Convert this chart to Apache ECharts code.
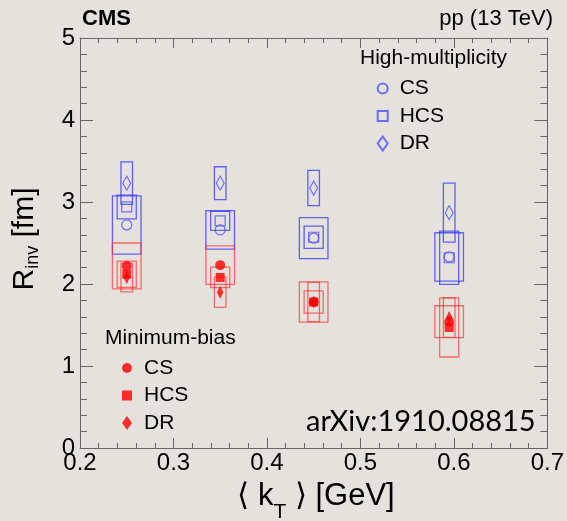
<!DOCTYPE html>
<html>
<head>
<meta charset="utf-8">
<script src="https://cdn.jsdelivr.net/npm/echarts@6/dist/echarts.min.js"></script>
<style>
  html, body { margin: 0; padding: 0; background: #e5e2de; }
  #chart { width: 567px; height: 521px; }
</style>
</head>
<body>
<div id="chart"></div>
<script>
// Mean pair transverse momentum bins, GeV
const kT = [0.25, 0.35, 0.45, 0.595];

// High-multiplicity events: R_inv (fm) and systematic uncertainty
const hmCS = [2.72, 2.66, 2.56, 2.33];
const hmCSsys = [0.355, 0.235, 0.25, 0.295];
const hmHCS = [2.94, 2.77, 2.57, 2.32];
const hmHCSsys = [0.145, 0.115, 0.135, 0.325];
const hmDR = [3.23, 3.23, 3.17, 2.87];
const hmDRsys = [0.26, 0.20, 0.215, 0.36];

// Minimum-bias events
const mbCS = [2.22, 2.23, 1.78, 1.54];
const mbCSsys = [0.28, 0.235, 0.245, 0.195];
const mbHCS = [2.12, 2.08, 1.78, 1.47];
const mbHCSsys = [0.16, 0.125, 0.135, 0.36];
const mbDR = [2.08, 1.90, 1.78, 1.59];
const mbDRsys = [0.175, 0.185, 0.24, 0.24];

// Axis ticks
const xTicks = [0.2, 0.3, 0.4, 0.5, 0.6, 0.7];
const yTicks = [0, 1, 2, 3, 4, 5];

const FONT = "'Liberation Sans', Arial, Helvetica, sans-serif";
const BLUE = '#4f4fff';
const RED = '#ff0000';
const BLUE_BOX = 'rgba(45,45,255,0.72)';
const RED_BOX = 'rgba(255,45,45,0.68)';
const DIAMOND = 'path://M5,0L10,7L5,14L0,7Z';
const SQUARE = 'path://M0,0L10,0L10,10L0,10Z';

// text width helper for hand-placed sub-scripts
const measureCtx = document.createElement('canvas').getContext('2d');
function textWidth(str, font) {
  measureCtx.font = font;
  return measureCtx.measureText(str).width;
}

// systematic-uncertainty rectangles, half-width given in GeV
function sysBoxes(name, vals, errs, halfW, color) {
  return {
    type: 'custom',
    name: name,
    silent: true,
    z: 2,
    data: kT.map((x, i) => [x, vals[i], errs[i]]),
    encode: { x: 0, y: 1 },
    renderItem: function (params, api) {
      const x = api.value(0), y = api.value(1), e = api.value(2);
      const a = api.coord([x - halfW, y + e]);
      const b = api.coord([x + halfW, y - e]);
      return {
        type: 'rect',
        shape: { x: a[0], y: a[1], width: b[0] - a[0], height: b[1] - a[1] },
        style: { fill: 'none', stroke: color, lineWidth: 1.3 }
      };
    }
  };
}

function points(name, vals, symbol, size, filled, color) {
  return {
    type: 'scatter',
    name: name,
    z: 3,
    symbol: symbol,
    symbolSize: size,
    symbolKeepAspect: true,
    data: kT.map((x, i) => [x, vals[i]]),
    itemStyle: filled
      ? { color: color }
      : { color: 'rgba(0,0,0,0)', borderColor: color, borderWidth: 1.2 }
  };
}

// a line of text with one lowered (sub-script) piece
function subscriptTitle(parts, mainFont, subFont, subShift) {
  const fonts = [mainFont, subFont, mainFont];
  const widths = parts.map((p, i) => textWidth(p, fonts[i]));
  const total = widths.reduce((s, w) => s + w, 0);
  let x = -total / 2;
  return parts.map((p, i) => {
    const el = {
      type: 'text', x: x, y: i === 1 ? subShift : 0,
      style: { text: p, font: fonts[i], fill: '#000', align: 'left', verticalAlign: 'middle' }
    };
    x += widths[i];
    return el;
  });
}

const MAIN_X = '31px ' + FONT;
const SUB_X = '21px ' + FONT;
const MAIN_Y = '30px ' + FONT;
const SUB_Y = '18px ' + FONT;

const legendText = { fontSize: 21, fontFamily: FONT, color: '#000', lineHeight: 21, padding: [0, 0, 0, 7] };
const stripTag = name => name.slice(3);

const chart = echarts.init(document.getElementById('chart'), null, { renderer: 'canvas' });

chart.setOption({
  backgroundColor: '#e5e2de',
  animation: false,
  grid: { left: 80, right: 14, top: 38, bottom: 73, containLabel: false },
  xAxis: [{
    type: 'value', min: xTicks[0], max: xTicks[xTicks.length - 1], interval: 0.1,
    axisLine: { show: true, onZero: false, lineStyle: { color: '#666', width: 1 } },
    axisTick: { inside: true, length: 10, lineStyle: { color: '#666' } },
    minorTick: { show: true, splitNumber: 5, length: 5, lineStyle: { color: '#666' } },
    splitLine: { show: false },
    axisLabel: { fontSize: 24, fontFamily: FONT, color: '#000', margin: 3,
      formatter: v => v.toFixed(1) }
  }, {
    type: 'value', position: 'top', min: xTicks[0], max: xTicks[xTicks.length - 1], interval: 0.1,
    axisLine: { show: true, onZero: false, lineStyle: { color: '#666', width: 1 } },
    axisTick: { inside: true, length: 10, lineStyle: { color: '#666' } },
    minorTick: { show: true, splitNumber: 5, length: 5, lineStyle: { color: '#666' } },
    splitLine: { show: false },
    axisLabel: { show: false }
  }],
  yAxis: [{
    type: 'value', min: yTicks[0], max: yTicks[yTicks.length - 1], interval: 1,
    axisLine: { show: true, onZero: false, lineStyle: { color: '#666', width: 1 } },
    axisTick: { inside: true, length: 13, lineStyle: { color: '#666' } },
    minorTick: { show: true, splitNumber: 5, length: 7, lineStyle: { color: '#666' } },
    splitLine: { show: false },
    axisLabel: { fontSize: 24, fontFamily: FONT, color: '#000', margin: 5 }
  }, {
    type: 'value', position: 'right', min: yTicks[0], max: yTicks[yTicks.length - 1], interval: 1,
    axisLine: { show: true, onZero: false, lineStyle: { color: '#666', width: 1 } },
    axisTick: { inside: true, length: 13, lineStyle: { color: '#666' } },
    minorTick: { show: true, splitNumber: 5, length: 7, lineStyle: { color: '#666' } },
    splitLine: { show: false },
    axisLabel: { show: false }
  }],
  legend: [{
    orient: 'vertical', left: 371.7, top: 73, itemWidth: 10, itemHeight: 14, itemGap: 6.5,
    selectedMode: false, textStyle: legendText, formatter: stripTag,
    data: ['HM CS', 'HM HCS', 'HM DR']
  }, {
    orient: 'vertical', left: 117, top: 352.5, itemWidth: 10, itemHeight: 14, itemGap: 6.5,
    selectedMode: false, textStyle: legendText, formatter: stripTag,
    data: ['MB CS', 'MB HCS', 'MB DR']
  }],
  graphic: [
    { type: 'text', left: 82, top: 8, style: { text: 'CMS', font: 'bold 22px ' + FONT, fill: '#000' } },
    { type: 'text', right: 14, top: 8, style: { text: 'pp (13 TeV)', font: '22px ' + FONT, fill: '#000' } },
    { type: 'text', left: 360, top: 48, style: { text: 'High-multiplicity', font: '21px ' + FONT, fill: '#000' } },
    { type: 'text', left: 105, top: 328, style: { text: 'Minimum-bias', font: '21px ' + FONT, fill: '#000' } },
    { type: 'text', left: 306, top: 407, style: { text: 'arXiv:1910.08815', font: '29px Lato, ' + FONT, fill: '#000' } },
    {
      type: 'group', x: 316, y: 496,
      children: subscriptTitle(['\u27e8 k', 'T', ' \u27e9 [GeV]'], MAIN_X, SUB_X, 16.5)
    },
    {
      type: 'group', x: 25, y: 239, rotation: Math.PI / 2,
      children: subscriptTitle(['R', 'inv', ' [fm]'], MAIN_Y, SUB_Y, 8)
    }
  ],
  series: [
    sysBoxes('hm-cs-sys', hmCS, hmCSsys, 0.0153, BLUE_BOX),
    sysBoxes('hm-hcs-sys', hmHCS, hmHCSsys, 0.0102, BLUE_BOX),
    sysBoxes('hm-dr-sys', hmDR, hmDRsys, 0.0062, BLUE_BOX),
    sysBoxes('mb-cs-sys', mbCS, mbCSsys, 0.0153, RED_BOX),
    sysBoxes('mb-hcs-sys', mbHCS, mbHCSsys, 0.0102, RED_BOX),
    sysBoxes('mb-dr-sys', mbDR, mbDRsys, 0.0062, RED_BOX),
    points('HM CS', hmCS, 'circle', 10, false, BLUE),
    points('HM HCS', hmHCS, SQUARE, 10, false, BLUE),
    points('HM DR', hmDR, DIAMOND, [11, 14], false, BLUE),
    points('MB CS', mbCS, 'circle', 10, true, RED),
    points('MB HCS', mbHCS, SQUARE, 9, true, RED),
    points('MB DR', mbDR, DIAMOND, [9, 13], true, RED)
  ]
});
</script>
</body>
</html>
